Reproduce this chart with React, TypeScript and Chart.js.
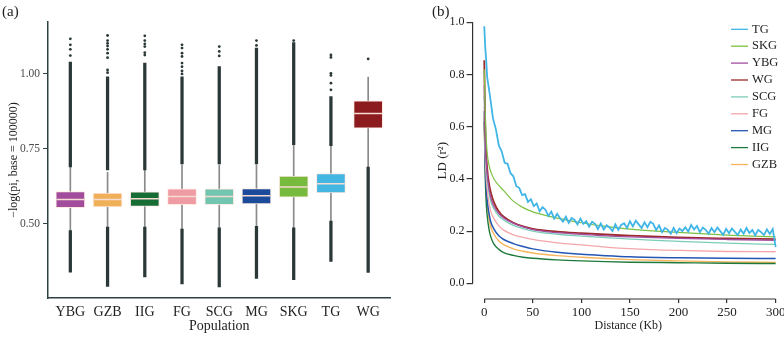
import React, { useEffect, useRef } from 'react';
import { Chart, registerables } from 'chart.js';
Chart.register(...registerables);

const FONT = "'Liberation Serif', 'Times New Roman', Times, serif";

// ---------- Panel (a): boxplots ----------
const populations = ['YBG', 'GZB', 'IIG', 'FG', 'SCG', 'MG', 'SKG', 'TG', 'WG'];
const boxColors = ['#a24d9c', '#efb058', '#186d37', '#ee9ba3', '#72c5ae', '#1d4b9c', '#78ba3d', '#43b6e2', '#8c1b20'];
const boxQ1 = [0.554, 0.557, 0.558, 0.564, 0.564, 0.567, 0.589, 0.603, 0.819];
const boxMedian = [0.581, 0.581, 0.584, 0.591, 0.591, 0.594, 0.623, 0.634, 0.868];
const boxQ3 = [0.608, 0.603, 0.607, 0.617, 0.617, 0.618, 0.659, 0.668, 0.910];
const whiskerLow = [0.475, 0.486, 0.486, 0.483, 0.485, 0.490, 0.485, 0.505, 0.686];
const whiskerHigh = [0.690, 0.672, 0.680, 0.697, 0.697, 0.697, 0.764, 0.765, 0.989];
const denseUpperMin = [0.690, 0.680, 0.680, 0.700, 0.700, 0.700, 0.764, 0.761, null];
const denseUpperMax = [1.039, 0.990, 1.036, 0.990, 1.024, 1.086, 1.104, 0.924, null];
const denseLowerMax = [0.478, 0.489, 0.489, 0.483, 0.487, 0.492, 0.487, 0.509, 0.689];
const denseLowerMin = [0.339, 0.292, 0.323, 0.300, 0.290, 0.318, 0.314, 0.375, 0.338];
const sparseOutliers = [
  [1.117, 1.097, 1.082, 1.061],
  [1.128, 1.111, 1.102, 1.093, 1.082, 1.069, 1.054, 1.013, 1.004],
  [1.127, 1.111, 1.100, 1.091, 1.071, 1.063],
  [1.097, 1.086, 1.069, 1.058, 1.036, 1.024, 1.010, 1.000],
  [1.091, 1.075, 1.060],
  [1.111, 1.095],
  [1.111],
  [1.063, 1.055, 1.002, 0.995, 0.969, 0.947],
  [1.050],
];
const yTicksA = [0.5, 0.75, 1.0];

// ---------- Panel (b): LD decay ----------
const ldLabels = ['TG', 'SKG', 'YBG', 'WG', 'SCG', 'FG', 'MG', 'IIG', 'GZB'];
const ldColors = ['#41b6e6', '#7dc142', '#a24ea0', '#9e2b2b', '#7ccdb8', '#f4a7aa', '#2456b3', '#1e7a3c', '#f6b55c'];
const ldWidths = [1.8, 1.2, 1.3, 1.8, 1.3, 1.3, 1.5, 1.4, 1.4];
const ldDist = [0, 1, 2, 3, 5, 7, 10, 15, 20, 30, 40, 50, 75, 100, 125, 150, 200, 250, 300];
const ldSKG = [0.82, 0.66, 0.56, 0.5, 0.45, 0.425, 0.4, 0.375, 0.355, 0.315, 0.29, 0.274, 0.25, 0.232, 0.218, 0.208, 0.195, 0.185, 0.178];
const ldYBG = [0.76, 0.56, 0.47, 0.42, 0.36, 0.325, 0.295, 0.267, 0.25, 0.23, 0.216, 0.206, 0.194, 0.188, 0.182, 0.178, 0.172, 0.168, 0.165];
const ldWG = [0.855, 0.6, 0.5, 0.44, 0.38, 0.345, 0.31, 0.275, 0.255, 0.232, 0.218, 0.209, 0.198, 0.192, 0.187, 0.183, 0.176, 0.172, 0.169];
const ldSCG = [0.72, 0.53, 0.45, 0.4, 0.345, 0.31, 0.285, 0.258, 0.243, 0.222, 0.21, 0.2, 0.188, 0.181, 0.175, 0.169, 0.161, 0.154, 0.149];
const ldFG = [0.68, 0.49, 0.41, 0.36, 0.305, 0.272, 0.248, 0.22, 0.204, 0.186, 0.176, 0.168, 0.155, 0.147, 0.139, 0.133, 0.126, 0.122, 0.121];
const ldMG = [0.66, 0.46, 0.37, 0.32, 0.265, 0.232, 0.208, 0.182, 0.168, 0.152, 0.141, 0.132, 0.119, 0.111, 0.106, 0.102, 0.098, 0.096, 0.095];
const ldIIG = [0.62, 0.41, 0.31, 0.26, 0.205, 0.175, 0.15, 0.13, 0.118, 0.107, 0.1, 0.096, 0.09, 0.086, 0.083, 0.081, 0.079, 0.077, 0.076];
const ldGZB = [0.64, 0.44, 0.35, 0.3, 0.245, 0.212, 0.188, 0.162, 0.148, 0.132, 0.123, 0.116, 0.106, 0.1, 0.095, 0.091, 0.086, 0.082, 0.08];
const tgDist = [0, 1, 2, 3, 6, 9, 12, 15, 18, 21, 24, 27, 30, 33, 36, 39, 42, 45, 48, 51, 54, 57, 60, 63, 66, 69, 72, 75, 78, 81, 84, 87, 90, 93, 96, 99, 102, 105, 108, 111, 114, 117, 120, 123, 126, 129, 132, 135, 138, 141, 144, 147, 150, 153, 156, 159, 162, 165, 168, 171, 174, 177, 180, 183, 186, 189, 192, 195, 198, 201, 204, 207, 210, 213, 216, 219, 222, 225, 228, 231, 234, 237, 240, 243, 246, 249, 252, 255, 258, 261, 264, 267, 270, 273, 276, 279, 282, 285, 288, 291, 294, 297, 300];
const ldTG = [0.985, 0.905, 0.855, 0.79, 0.715, 0.632, 0.59, 0.528, 0.505, 0.462, 0.458, 0.422, 0.41, 0.372, 0.366, 0.338, 0.342, 0.312, 0.322, 0.296, 0.306, 0.276, 0.292, 0.282, 0.258, 0.275, 0.248, 0.266, 0.25, 0.236, 0.255, 0.232, 0.25, 0.243, 0.226, 0.248, 0.228, 0.238, 0.217, 0.236, 0.228, 0.208, 0.229, 0.206, 0.222, 0.214, 0.2, 0.226, 0.205, 0.224, 0.23, 0.212, 0.238, 0.218, 0.24, 0.226, 0.212, 0.234, 0.215, 0.236, 0.228, 0.204, 0.222, 0.196, 0.212, 0.205, 0.19, 0.212, 0.192, 0.21, 0.2, 0.215, 0.198, 0.224, 0.206, 0.22, 0.196, 0.214, 0.205, 0.19, 0.212, 0.196, 0.214, 0.2, 0.186, 0.209, 0.192, 0.21, 0.197, 0.185, 0.206, 0.19, 0.212, 0.193, 0.204, 0.184, 0.205, 0.196, 0.185, 0.207, 0.189, 0.208, 0.14];
const xTicksB = [0, 50, 100, 150, 200, 250, 300];
const yTicksB = [0, 0.2, 0.4, 0.6, 0.8, 1.0];

const dark = '#2b3838';

function panelLabel(text: string, x: number, y: number) {
  return {
    id: 'panelLabel' + text,
    afterDraw(chart: any) {
      const ctx = chart.ctx;
      ctx.save();
      ctx.font = `15px ${FONT}`;
      ctx.fillStyle = '#222';
      ctx.textBaseline = 'middle';
      ctx.fillText(text, x, y);
      ctx.restore();
    },
  };
}

const detachedAxes = {
  id: 'detachedAxes',
  afterDraw(chart: any) {
    const { ctx, chartArea, scales } = chart;
    const x = scales.x;
    const y = scales.y;
    ctx.save();
    ctx.strokeStyle = '#333';
    ctx.lineWidth = 1.2;
    ctx.beginPath();
    ctx.moveTo(chartArea.left, y.getPixelForValue(yTicksB[0]));
    ctx.lineTo(chartArea.left, y.getPixelForValue(yTicksB[yTicksB.length - 1]));
    ctx.moveTo(x.getPixelForValue(xTicksB[0]), chartArea.bottom);
    ctx.lineTo(x.getPixelForValue(xTicksB[xTicksB.length - 1]), chartArea.bottom);
    ctx.stroke();
    ctx.restore();
  },
};

const ldLegend = {
  id: 'ldLegend',
  afterDraw(chart: any) {
    const ctx = chart.ctx;
    ctx.save();
    ctx.font = `12.5px ${FONT}`;
    ctx.textBaseline = 'middle';
    ctx.fillStyle = '#222';
    chart.data.datasets.forEach((ds: any, i: number) => {
      const y = 29.3 + i * 16.9;
      ctx.strokeStyle = ds.borderColor;
      ctx.lineWidth = 1.3;
      ctx.beginPath();
      ctx.moveTo(331, y);
      ctx.lineTo(348, y);
      ctx.stroke();
      ctx.fillText(ds.label, 352, y);
    });
    ctx.restore();
  },
};

export default function App() {
  const refA = useRef<HTMLCanvasElement>(null);
  const refB = useRef<HTMLCanvasElement>(null);

  useEffect(() => {
    const idx = populations.map((_, i) => i + 1);
    const outlierPts: { x: number; y: number }[] = [];
    sparseOutliers.forEach((arr, i) => arr.forEach((v) => outlierPts.push({ x: i + 1, y: v })));

    const barCommon = { grouped: false, borderSkipped: false as const };

    const chartA = new Chart(refA.current!, {
      type: 'bar',
      data: {
        datasets: [
          {
            type: 'scatter',
            label: 'median',
            data: idx.map((x, i) => ({ x, y: boxMedian[i] })),
            pointStyle: 'line',
            pointRadius: 14,
            pointBorderColor: '#f6dcd2',
            pointBorderWidth: 1.5,
            order: 0,
          } as any,
          {
            type: 'bar',
            label: 'box',
            data: idx.map((x, i) => ({ x, y: [boxQ1[i], boxQ3[i]] })),
            backgroundColor: boxColors,
            borderColor: 'rgba(255,232,222,0.9)',
            borderWidth: 1,
            barThickness: 29,
            ...barCommon,
            order: 1,
          } as any,
          {
            type: 'scatter',
            label: 'outliers',
            data: outlierPts,
            pointRadius: 1.4,
            pointBackgroundColor: dark,
            pointBorderWidth: 0,
            order: 2,
          } as any,
          {
            type: 'bar',
            label: 'denseUpper',
            data: idx.map((x, i) => ({ x, y: denseUpperMin[i] === null ? null : [denseUpperMin[i], denseUpperMax[i]] })),
            backgroundColor: dark,
            barThickness: 2.6,
            ...barCommon,
            order: 3,
          } as any,
          {
            type: 'bar',
            label: 'denseLower',
            data: idx.map((x, i) => ({ x, y: [denseLowerMin[i], denseLowerMax[i]] })),
            backgroundColor: dark,
            barThickness: 2.6,
            ...barCommon,
            order: 4,
          } as any,
          {
            type: 'bar',
            label: 'whisker',
            data: idx.map((x, i) => ({ x, y: [whiskerLow[i], whiskerHigh[i]] })),
            backgroundColor: '#8a8a8a',
            barThickness: 1,
            ...barCommon,
            order: 5,
          } as any,
        ],
      },
      options: {
        responsive: false,
        animation: false,
        events: [],
        layout: { padding: { top: 22, right: 1.75, bottom: 0, left: 0 } },
        plugins: { legend: { display: false }, tooltip: { enabled: false } },
        scales: {
          x: {
            type: 'linear',
            min: 0.4,
            max: 9.6,
            offset: false,
            afterBuildTicks: (s: any) => {
              s.ticks = idx.map((v) => ({ value: v }));
            },
            afterFit: (s: any) => {
              s.height = 40;
              s.paddingLeft = 0;
              s.paddingRight = 0;
            },
            grid: { display: false, drawTicks: false, tickLength: 0 },
            border: { display: true, color: '#2f4242', width: 1.5 },
            ticks: {
              autoSkip: false,
              maxRotation: 0,
              padding: 6,
              color: '#222',
              font: { family: FONT, size: 14 },
              callback: (v: any) => populations[Math.round(Number(v)) - 1],
            },
            title: {
              display: true,
              text: 'Population',
              color: '#222',
              font: { family: FONT, size: 14 },
              padding: { top: 0, bottom: 3 },
            },
          },
          y: {
            type: 'linear',
            min: 0.253,
            max: 1.173,
            beginAtZero: false,
            afterBuildTicks: (s: any) => {
              s.ticks = yTicksA.map((v) => ({ value: v }));
            },
            afterFit: (s: any) => {
              s.width = 48;
              s.paddingTop = 0;
              s.paddingBottom = 0;
            },
            grid: { display: true, drawOnChartArea: false, drawTicks: true, tickLength: 5, color: '#2f4242', lineWidth: 1 },
            border: { display: true, color: '#2f4242', width: 1.5 },
            ticks: {
              padding: 3,
              color: '#4a4a4a',
              font: { family: FONT, size: 11.5 },
              callback: (v: any) => Number(v).toFixed(2),
            },
            title: {
              display: true,
              text: '−log(pi, base = 100000)',
              color: '#222',
              font: { family: FONT, size: 12 },
              padding: { top: 6.5, bottom: 0 },
            },
          },
        },
      } as any,
      plugins: [panelLabel('(a)', 2, 12)],
    });

    const series = [ldTG, ldSKG, ldYBG, ldWG, ldSCG, ldFG, ldMG, ldIIG, ldGZB];
    const chartB = new Chart(refB.current!, {
      type: 'line',
      data: {
        datasets: series.map((arr, k) => ({
          label: ldLabels[k],
          data: (k === 0 ? tgDist : ldDist).map((d, i) => ({ x: d, y: arr[i] })),
          borderColor: ldColors[k],
          backgroundColor: ldColors[k],
          borderWidth: ldWidths[k],
          pointRadius: 0,
          cubicInterpolationMode: k === 0 ? 'default' : 'monotone',
          tension: 0,
          fill: false,
        })) as any,
      },
      options: {
        responsive: false,
        animation: false,
        events: [],
        layout: { padding: { top: 22.3, right: 0, bottom: 0, left: 0 } },
        plugins: { legend: { display: false }, tooltip: { enabled: false } },
        scales: {
          x: {
            type: 'linear',
            min: -12,
            max: 308.6,
            afterBuildTicks: (s: any) => {
              s.ticks = xTicksB.map((v) => ({ value: v }));
            },
            afterFit: (s: any) => {
              s.height = 39;
              s.paddingLeft = 0;
              s.paddingRight = 0;
            },
            grid: { display: true, drawOnChartArea: false, drawTicks: true, tickLength: 4, color: '#333', lineWidth: 1.2 },
            border: { display: false },
            ticks: {
              autoSkip: false,
              maxRotation: 0,
              padding: 2,
              color: '#222',
              font: { family: FONT, size: 13 },
            },
            title: {
              display: true,
              text: 'Distance (Kb)',
              color: '#222',
              font: { family: FONT, size: 12 },
              padding: { top: 0, bottom: 4.8 },
            },
          },
          y: {
            type: 'linear',
            min: -0.06,
            max: 1.0,
            afterBuildTicks: (s: any) => {
              s.ticks = yTicksB.map((v) => ({ value: v }));
            },
            afterFit: (s: any) => {
              s.width = 72.6;
              s.paddingTop = 0;
              s.paddingBottom = 0;
            },
            grid: { display: true, drawOnChartArea: false, drawTicks: true, tickLength: 6, color: '#333', lineWidth: 1.2 },
            border: { display: false },
            ticks: {
              padding: 2,
              color: '#222',
              font: { family: FONT, size: 12 },
              callback: (v: any) => Number(v).toFixed(1),
            },
            title: {
              display: true,
              text: 'LD (r²)',
              color: '#222',
              font: { family: FONT, size: 13 },
              padding: { top: 35, bottom: 0 },
            },
          },
        },
      } as any,
      plugins: [detachedAxes, ldLegend, panelLabel('(b)', 32, 12.5)],
    });

    return () => {
      chartA.destroy();
      chartB.destroy();
    };
  }, []);

  return (
    <div style={{ position: 'absolute', left: 0, top: 0, width: 784, height: 338, background: '#fff', overflow: 'hidden' }}>
      <canvas ref={refA} width={406} height={338} style={{ position: 'absolute', left: 0, top: 0 }} />
      <canvas ref={refB} width={384} height={338} style={{ position: 'absolute', left: 400, top: 0 }} />
    </div>
  );
}
